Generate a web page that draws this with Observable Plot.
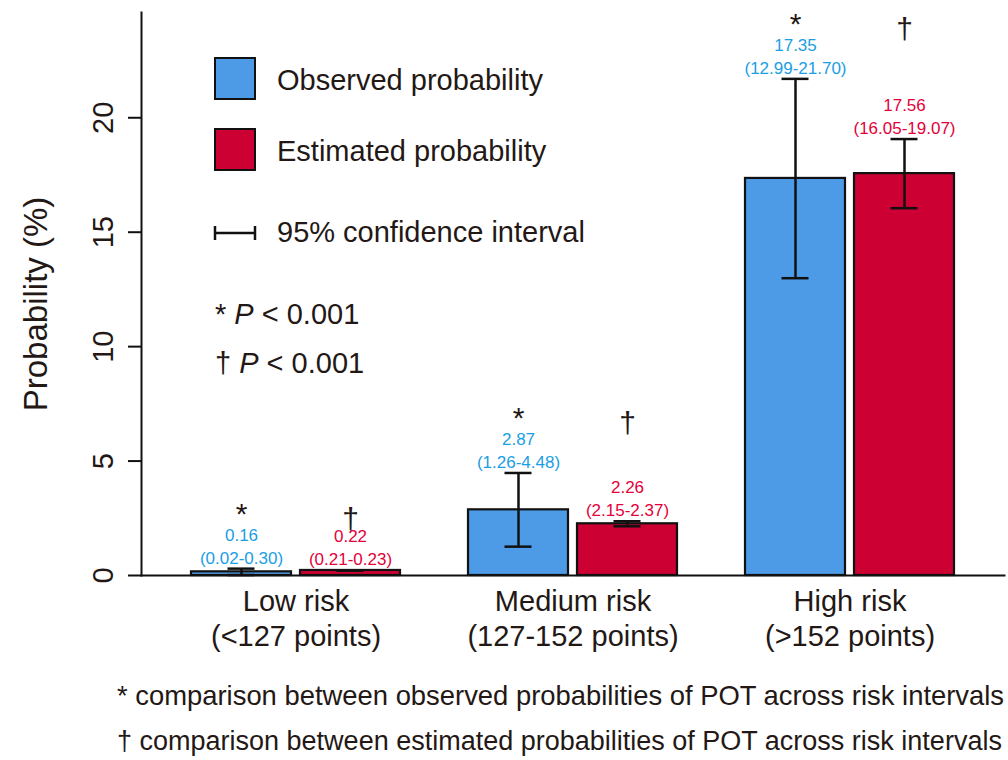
<!DOCTYPE html>
<html>
<head>
<meta charset="utf-8">
<script src="https://cdn.jsdelivr.net/npm/d3@7"></script>
<script src="https://cdn.jsdelivr.net/npm/@observablehq/plot@0.6"></script>
<style>
  body { margin: 0; background: #fff; }
  #wrap { position: relative; width: 1008px; height: 760px; color: #231815;
    font-family: "Liberation Sans", Arial, Helvetica, sans-serif; }
  #chart { position: absolute; left: 0; top: 0; }
  .abs { position: absolute; white-space: nowrap; }
  .sw { position: absolute; width: 38px; height: 39px; border: 2px solid #111; }
  .lt { position: absolute; font-size: 29px; line-height: 40px; white-space: nowrap; }
  .fn { position: absolute; left: 117px; font-size: 27.4px; line-height: 40px; white-space: nowrap; }
</style>
</head>
<body>
<div id="wrap">
  <div id="chart"></div>
  <div class="sw" style="left:214px;top:57px;background:#4d9be6"></div>
  <div class="lt" style="left:277px;top:60px">Observed probability</div>
  <div class="sw" style="left:214px;top:128px;background:#cc0033"></div>
  <div class="lt" style="left:277px;top:131px">Estimated probability</div>
  <svg class="abs" style="left:212px;top:223px" width="46" height="20">
    <line x1="2" y1="10" x2="44" y2="10" stroke="#111" stroke-width="2.5"/>
    <line x1="3" y1="3" x2="3" y2="17" stroke="#111" stroke-width="2.5"/>
    <line x1="43" y1="3" x2="43" y2="17" stroke="#111" stroke-width="2.5"/>
  </svg>
  <div class="lt" style="left:277px;top:212px">95% confidence interval</div>
  <div class="lt" style="left:215px;top:294px">* <i>P</i> &lt; 0.001</div>
  <div class="lt" style="left:215px;top:343px">† <i>P</i> &lt; 0.001</div>
  <div class="fn" style="top:676px">* comparison between observed probabilities of POT across risk intervals</div>
  <div class="fn" style="top:721px;font-size:27px">† comparison between estimated probabilities of POT across risk intervals</div>
</div>
<script>
const groups = ["Low risk\n(<127 points)", "Medium risk\n(127-152 points)", "High risk\n(>152 points)"];
const series = ["Observed probability", "Estimated probability"];
const observed = [0.16, 2.87, 17.35];
const observedLow = [0.02, 1.26, 12.99];
const observedHigh = [0.30, 4.48, 21.70];
const estimated = [0.22, 2.26, 17.56];
const estimatedLow = [0.21, 2.15, 16.05];
const estimatedHigh = [0.23, 2.37, 19.07];
const symbols = ["*", "†"];
const yTicks = [0, 5, 10, 15, 20];

const rows = [];
groups.forEach((g, i) => {
  const top = Math.max(observedHigh[i], estimatedHigh[i]);
  rows.push({group: g, series: series[0], value: observed[i], lo: observedLow[i], hi: observedHigh[i], sym: symbols[0], top});
  rows.push({group: g, series: series[1], value: estimated[i], lo: estimatedLow[i], hi: estimatedHigh[i], sym: symbols[1], top});
});
const fmt = d3.format(".2f");
const label = d => fmt(d.value) + "\n(" + fmt(d.lo) + "-" + fmt(d.hi) + ")";
const font = "'Liberation Sans', Arial, Helvetica, sans-serif";
const axisShift = -50;

const chart = Plot.plot({
  width: 1008,
  height: 670,
  marginTop: 12,
  marginBottom: 95,
  marginLeft: 140,
  marginRight: 3,
  style: {fontFamily: font, color: "#231815", background: "transparent"},
  fx: {domain: groups, paddingInner: 0.2464, paddingOuter: 0.179, axis: null},
  x: {domain: series, paddingInner: 0.0868, paddingOuter: 0, axis: null},
  y: {domain: [0, 24.6], axis: null},
  color: {domain: series, range: ["#4d9be6", "#cc0033"]},
  marks: [
    Plot.frame({anchor: "left", facet: "super", insetLeft: axisShift, stroke: "#111", strokeWidth: 2}),
    Plot.axisY({anchor: "left", ticks: yTicks, tickSize: 13, tickPadding: 16, tickRotate: -90, dx: axisShift,
      fontSize: 29, label: null, stroke: "#111", strokeWidth: 2}),
    Plot.text(["Probability (%)"], {facet: "super", frameAnchor: "left", textAnchor: "middle", rotate: -90,
      dx: axisShift - 105, dy: 10, fontSize: 33, fill: "#231815"}),
    Plot.barY(rows, {fx: "group", x: "series", y: "value", fill: "series", stroke: "#111", strokeWidth: 2.2}),
    Plot.frame({anchor: "bottom", facet: "super", insetLeft: axisShift, insetRight: axisShift, stroke: "#111", strokeWidth: 2}),
    Plot.ruleX(rows, {fx: "group", x: "series", y1: "lo", y2: "hi", stroke: "#111", strokeWidth: 2.5}),
    Plot.tickY(rows, {fx: "group", x: "series", y: "lo", inset: 36.5, stroke: "#111", strokeWidth: 2.5}),
    Plot.tickY(rows, {fx: "group", x: "series", y: "hi", inset: 36.5, stroke: "#111", strokeWidth: 2.5}),
    Plot.text(rows, {filter: d => d.series === series[0], fx: "group", x: "series", y: "hi", text: label,
      lineAnchor: "bottom", dy: -5, fontSize: 17, lineHeight: 1.35, fill: "#1a9ee4"}),
    Plot.text(rows, {filter: d => d.series === series[1], fx: "group", x: "series", y: "hi", text: label,
      lineAnchor: "bottom", dy: -5, fontSize: 17, lineHeight: 1.35, fill: "#e4003a"}),
    Plot.text(rows, {filter: d => d.series === series[0], fx: "group", x: "series", y: "top", text: "sym",
      lineAnchor: "bottom", dy: -45, fontSize: 30, fill: "#231815"}),
    Plot.text(rows, {filter: d => d.series === series[1], fx: "group", x: "series", y: "top", text: "sym",
      lineAnchor: "bottom", dy: -40, fontSize: 30, fill: "#231815"}),
    Plot.axisFx({anchor: "bottom", tickSize: 0, tickPadding: 10, fontSize: 29, lineHeight: 1.22, label: null})
  ]
});
document.getElementById("chart").appendChild(chart);
</script>
</body>
</html>
